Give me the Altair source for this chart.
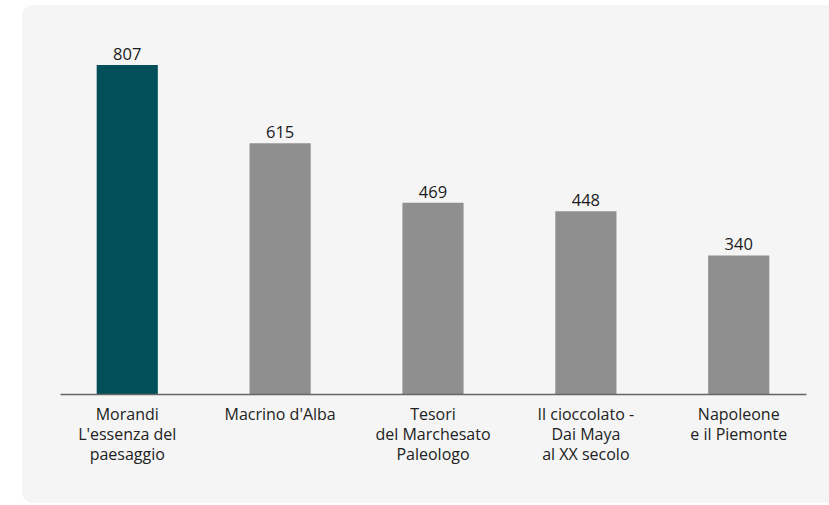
import altair as alt
import pandas as pd

# Visitors (thousands) per exhibition
exhibitions = [
    "Morandi\nL'essenza del\npaesaggio",
    "Macrino d'Alba",
    "Tesori\ndel Marchesato\nPaleologo",
    "Il cioccolato -\nDai Maya\nal XX secolo",
    "Napoleone\ne il Piemonte",
]
visitors = [807, 615, 469, 448, 340]
highlight = [True, False, False, False, False]

df = pd.DataFrame({"mostra": exhibitions, "visitatori": visitors, "top": highlight})

FONT = "Open Sans"

x = alt.X(
    "mostra:N",
    sort=exhibitions,
    scale=alt.Scale(paddingInner=0.6, paddingOuter=0.24),
    axis=alt.Axis(
        title=None,
        labelAngle=0,
        labelExpr="split(datum.label, '\\n')",
        labelFont=FONT,
        labelFontSize=16,
        labelColor="#222222",
        labelLineHeight=20,
        labelBaseline="top",
        labelPadding=12,
        ticks=False,
        domainColor="#666666",
        domainWidth=1.5,
        grid=False,
        zindex=1,
    ),
)
y = alt.Y(
    "visitatori:Q",
    scale=alt.Scale(domain=[0, 807], nice=False),
    axis=None,
)

# Rounded light-gray card behind the chart
panel = alt.Chart(df).mark_rect(
    color="#f5f5f5", cornerRadius=12, clip=False
).encode(
    x=alt.value(-38), x2=alt.value(789), y=alt.value(-60), y2=alt.value(438)
)

bars = alt.Chart(df).mark_bar().encode(
    x=x,
    y=y,
    color=alt.Color(
        "top:N",
        scale=alt.Scale(domain=[True, False], range=["#024f5a", "#8f8f8f"]),
        legend=None,
    ),
)

values = alt.Chart(df).mark_text(
    baseline="alphabetic", dy=-5, font=FONT, fontSize=16.5, color="#1a1a1a"
).encode(x=x, y=y, text="visitatori:Q")

chart = (
    alt.layer(panel, bars, values)
    .properties(
        width=746,
        height=329,
        autosize=alt.AutoSizeParams(type="none"),
        padding={"left": 60, "top": 65, "right": 23, "bottom": 111},
        background="white",
    )
    .configure_view(stroke=None)
)

chart.save("out.html", embed_options={"renderer": "svg", "actions": False})
